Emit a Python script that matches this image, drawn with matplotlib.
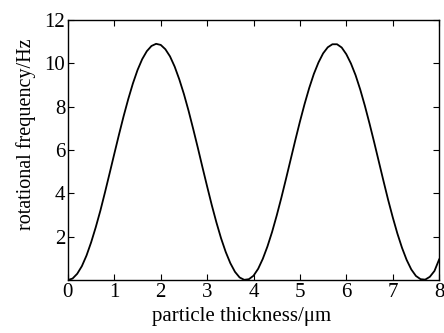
import numpy as np
import matplotlib
matplotlib.use("Agg")
import matplotlib.pyplot as plt

# particle thickness (um), read every 0.1 um
thickness = np.round(np.arange(0, 8.01, 0.1), 1)

# rotational frequency (Hz)
freq = [
    0.00, 0.07, 0.29, 0.64, 1.13, 1.74, 2.44, 3.21, 4.06, 4.94,
    5.83, 6.71, 7.56, 8.35, 9.07, 9.69, 10.19, 10.56, 10.80, 10.90,
    10.85, 10.65, 10.32, 9.85, 9.26, 8.58, 7.81, 6.97, 6.10, 5.20,
    4.32, 3.46, 2.66, 1.93, 1.30, 0.78, 0.38, 0.12, 0.01, 0.04,
    0.20, 0.52, 0.98, 1.55, 2.22, 2.98, 3.80, 4.67, 5.56, 6.45,
    7.31, 8.12, 8.86, 9.51, 10.04, 10.46, 10.74, 10.88, 10.88, 10.73,
    10.42, 9.99, 9.45, 8.79, 8.04, 7.22, 6.36, 5.47, 4.58, 3.71,
    2.90, 2.15, 1.49, 0.93, 0.49, 0.19, 0.04, 0.02, 0.15, 0.42,
    0.95,
]

x_ticks = [0, 1, 2, 3, 4, 5, 6, 7, 8]
y_ticks = [2, 4, 6, 8, 10, 12]

plt.rcParams["font.family"] = ["Liberation Serif", "DejaVu Serif"]

fig = plt.figure(figsize=(4.44, 3.33), dpi=100)
ax = fig.add_axes([0.153, 0.159, 0.836, 0.781])

ax.plot(thickness, freq, color="black", linewidth=1.3)

ax.set_xlim(0, 8)
ax.set_ylim(0, 12)
ax.set_xticks(x_ticks)
ax.set_yticks(y_ticks)
ax.tick_params(direction="in", length=4, width=0.8, labelsize=15,
               top=True, right=True, pad=2)
for s in ax.spines.values():
    s.set_linewidth(1.0)

ax.set_xlabel("particle thickness/\u03bcm", fontsize=15)
ax.xaxis.set_label_coords(0.468, -0.105)
ax.set_ylabel("rotational frequency/Hz", fontsize=14.5)
ax.yaxis.set_label_coords(-0.085, 0.56)

fig.savefig("out.png", dpi=100)
